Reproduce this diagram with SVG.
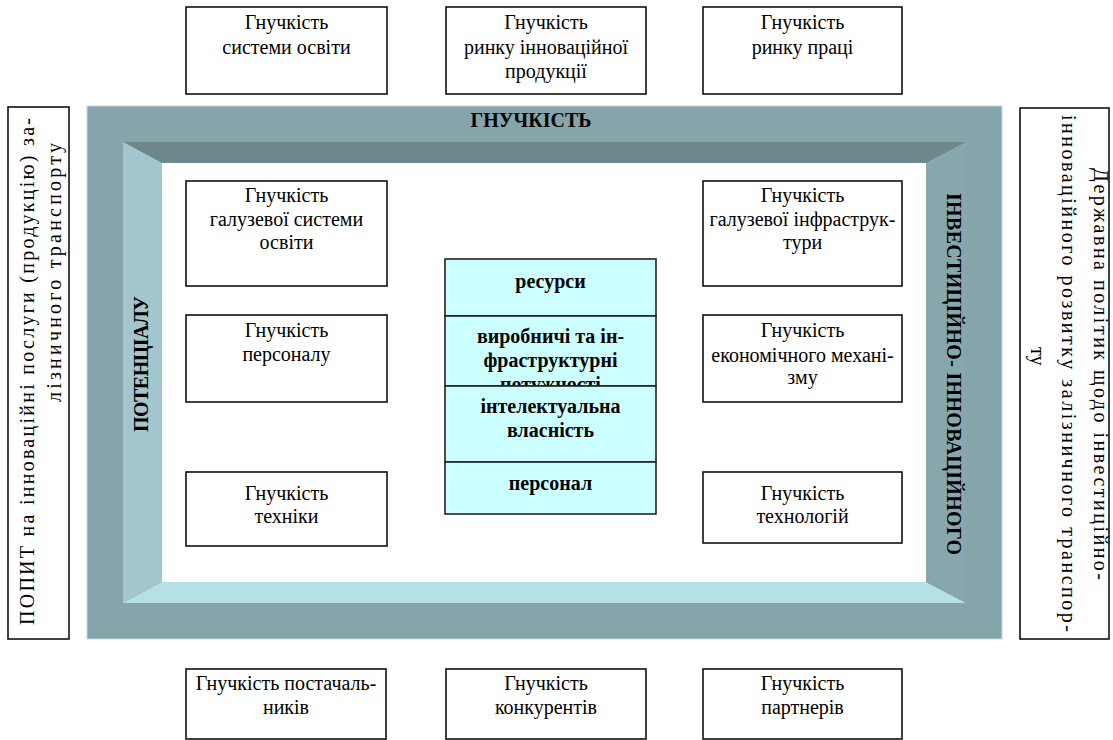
<svg xmlns="http://www.w3.org/2000/svg" width="1113" height="740" viewBox="0 0 1113 740">
<style>
.box{fill:#fff;stroke:#111;stroke-width:1.6}
.cell{fill:#ccffff;stroke:#222;stroke-width:1.6}
.t{font-family:"Liberation Serif","Times New Roman",serif;font-size:20px;text-anchor:middle;fill:#000}
.b{font-weight:bold}
.s{text-anchor:start}
.m{font-family:"Liberation Serif","Times New Roman",serif;font-size:20px;fill:#000}
</style>
<rect x="0" y="0" width="1113" height="740" fill="#fff"/>
<g id="frame">
<rect x="87" y="106" width="915" height="533" fill="#86a5aa" stroke="#c4dadd" stroke-width="1"/>
<polygon points="123,142 966,142 926,163 162,163" fill="#6e878b"/>
<polygon points="123,142 162,163 162,582 123,603" fill="#a3c6cd"/>
<polygon points="123,603 162,582 926,582 966,603" fill="#b5e0e6"/>
<polygon points="966,142 926,163 926,582 966,603" fill="#88a7ac"/>
<rect x="162" y="163" width="764" height="419" fill="#fff"/>
<text class="t b" x="531" y="127">ГНУЧКІСТЬ</text>
<text class="t b s" transform="translate(148,432) rotate(-90)" textLength="136" lengthAdjust="spacing">ПОТЕНЦІАЛУ</text>
<text class="t b s" transform="translate(947,193) rotate(90)" textLength="362" lengthAdjust="spacing">ІНВЕСТИЦІЙНО- ІННОВАЦІЙНОГО</text>
</g>
<g id="connectors"/>
<g id="top1"><rect class="box" x="186" y="7" width="201" height="87"/>
<text class="t" x="286.5" y="29">Гнучкість</text><text class="t" x="286.5" y="54">системи освіти</text></g>
<g id="top2"><rect class="box" x="446" y="7" width="200" height="87"/>
<text class="t" x="546" y="29">Гнучкість</text><text class="t" x="546" y="54">ринку інноваційної</text><text class="t" x="546" y="78">продукції</text></g>
<g id="top3"><rect class="box" x="703" y="7" width="199" height="87"/>
<text class="t" x="802.5" y="29">Гнучкість</text><text class="t" x="802.5" y="54">ринку праці</text></g>
<g id="demand"><rect class="box" x="8" y="107" width="61" height="532"/>
<text class="m" transform="translate(34,625) rotate(-90)" textLength="507" lengthAdjust="spacing">ПОПИТ на інноваційні послуги (продукцію) за-</text>
<text class="m" transform="translate(61,402) rotate(-90)" textLength="259" lengthAdjust="spacing">лізничного транспорту</text></g>
<g id="policy"><rect class="box" x="1020" y="108" width="89" height="531"/>
<text class="m" transform="translate(1094,168) rotate(90)" textLength="412" lengthAdjust="spacing">Державна політик щодо інвестиційно-</text>
<text class="m" transform="translate(1062,115) rotate(90)" textLength="517" lengthAdjust="spacing">інноваційного  розвитку залізничного транспор-</text>
<text class="m" transform="translate(1031,347) rotate(90)">ту</text></g>
<g id="left1"><rect class="box" x="186" y="181" width="201" height="105"/>
<text class="t" x="286.5" y="202">Гнучкість</text><text class="t" x="286.5" y="226">галузевої системи</text><text class="t" x="286.5" y="249">освіти</text></g>
<g id="left2"><rect class="box" x="186" y="315" width="201" height="87"/>
<text class="t" x="286.5" y="337">Гнучкість</text><text class="t" x="286.5" y="361">персоналу</text></g>
<g id="left3"><rect class="box" x="186" y="472" width="201" height="74"/>
<text class="t" x="286.5" y="500">Гнучкість</text><text class="t" x="286.5" y="523">техніки</text></g>
<g id="right1"><rect class="box" x="703" y="181" width="199" height="105"/>
<text class="t" x="802.5" y="202">Гнучкість</text><text class="t" x="802.5" y="226">галузевої інфраструк-</text><text class="t" x="802.5" y="249">тури</text></g>
<g id="right2"><rect class="box" x="703" y="315" width="199" height="87"/>
<text class="t" x="802.5" y="337">Гнучкість</text><text class="t" x="802.5" y="362">економічного механі-</text><text class="t" x="802.5" y="384">зму</text></g>
<g id="right3"><rect class="box" x="703" y="472" width="199" height="71"/>
<text class="t" x="802.5" y="500">Гнучкість</text><text class="t" x="802.5" y="523">технологій</text></g>
<g id="resources"><rect class="cell" x="445" y="259" width="211" height="57"/>
<text class="t b" x="550.5" y="288">ресурси</text></g>
<g id="capacities"><rect class="cell" x="445" y="316" width="211" height="70"/>
<text class="t b" x="550.5" y="343">виробничі  та ін-</text><text class="t b" x="550.5" y="367">фраструктурні</text><text class="t b" x="550.5" y="391">потужності</text></g>
<g id="intellectual"><rect class="cell" x="445" y="386" width="211" height="76"/>
<text class="t b" x="550.5" y="413">інтелектуальна</text><text class="t b" x="550.5" y="437">власність</text></g>
<g id="personnel"><rect class="cell" x="445" y="462" width="211" height="52"/>
<text class="t b" x="550.5" y="490">персонал</text></g>
<g id="bottom1"><rect class="box" x="186" y="669" width="200" height="70"/>
<text class="t" x="286" y="690">Гнучкість постачаль-</text><text class="t" x="286" y="714">ників</text></g>
<g id="bottom2"><rect class="box" x="446" y="669" width="200" height="70"/>
<text class="t" x="546" y="690">Гнучкість</text><text class="t" x="546" y="714">конкурентів</text></g>
<g id="bottom3"><rect class="box" x="703" y="669" width="199" height="70"/>
<text class="t" x="802.5" y="690">Гнучкість</text><text class="t" x="802.5" y="714">партнерів</text></g>
</svg>
